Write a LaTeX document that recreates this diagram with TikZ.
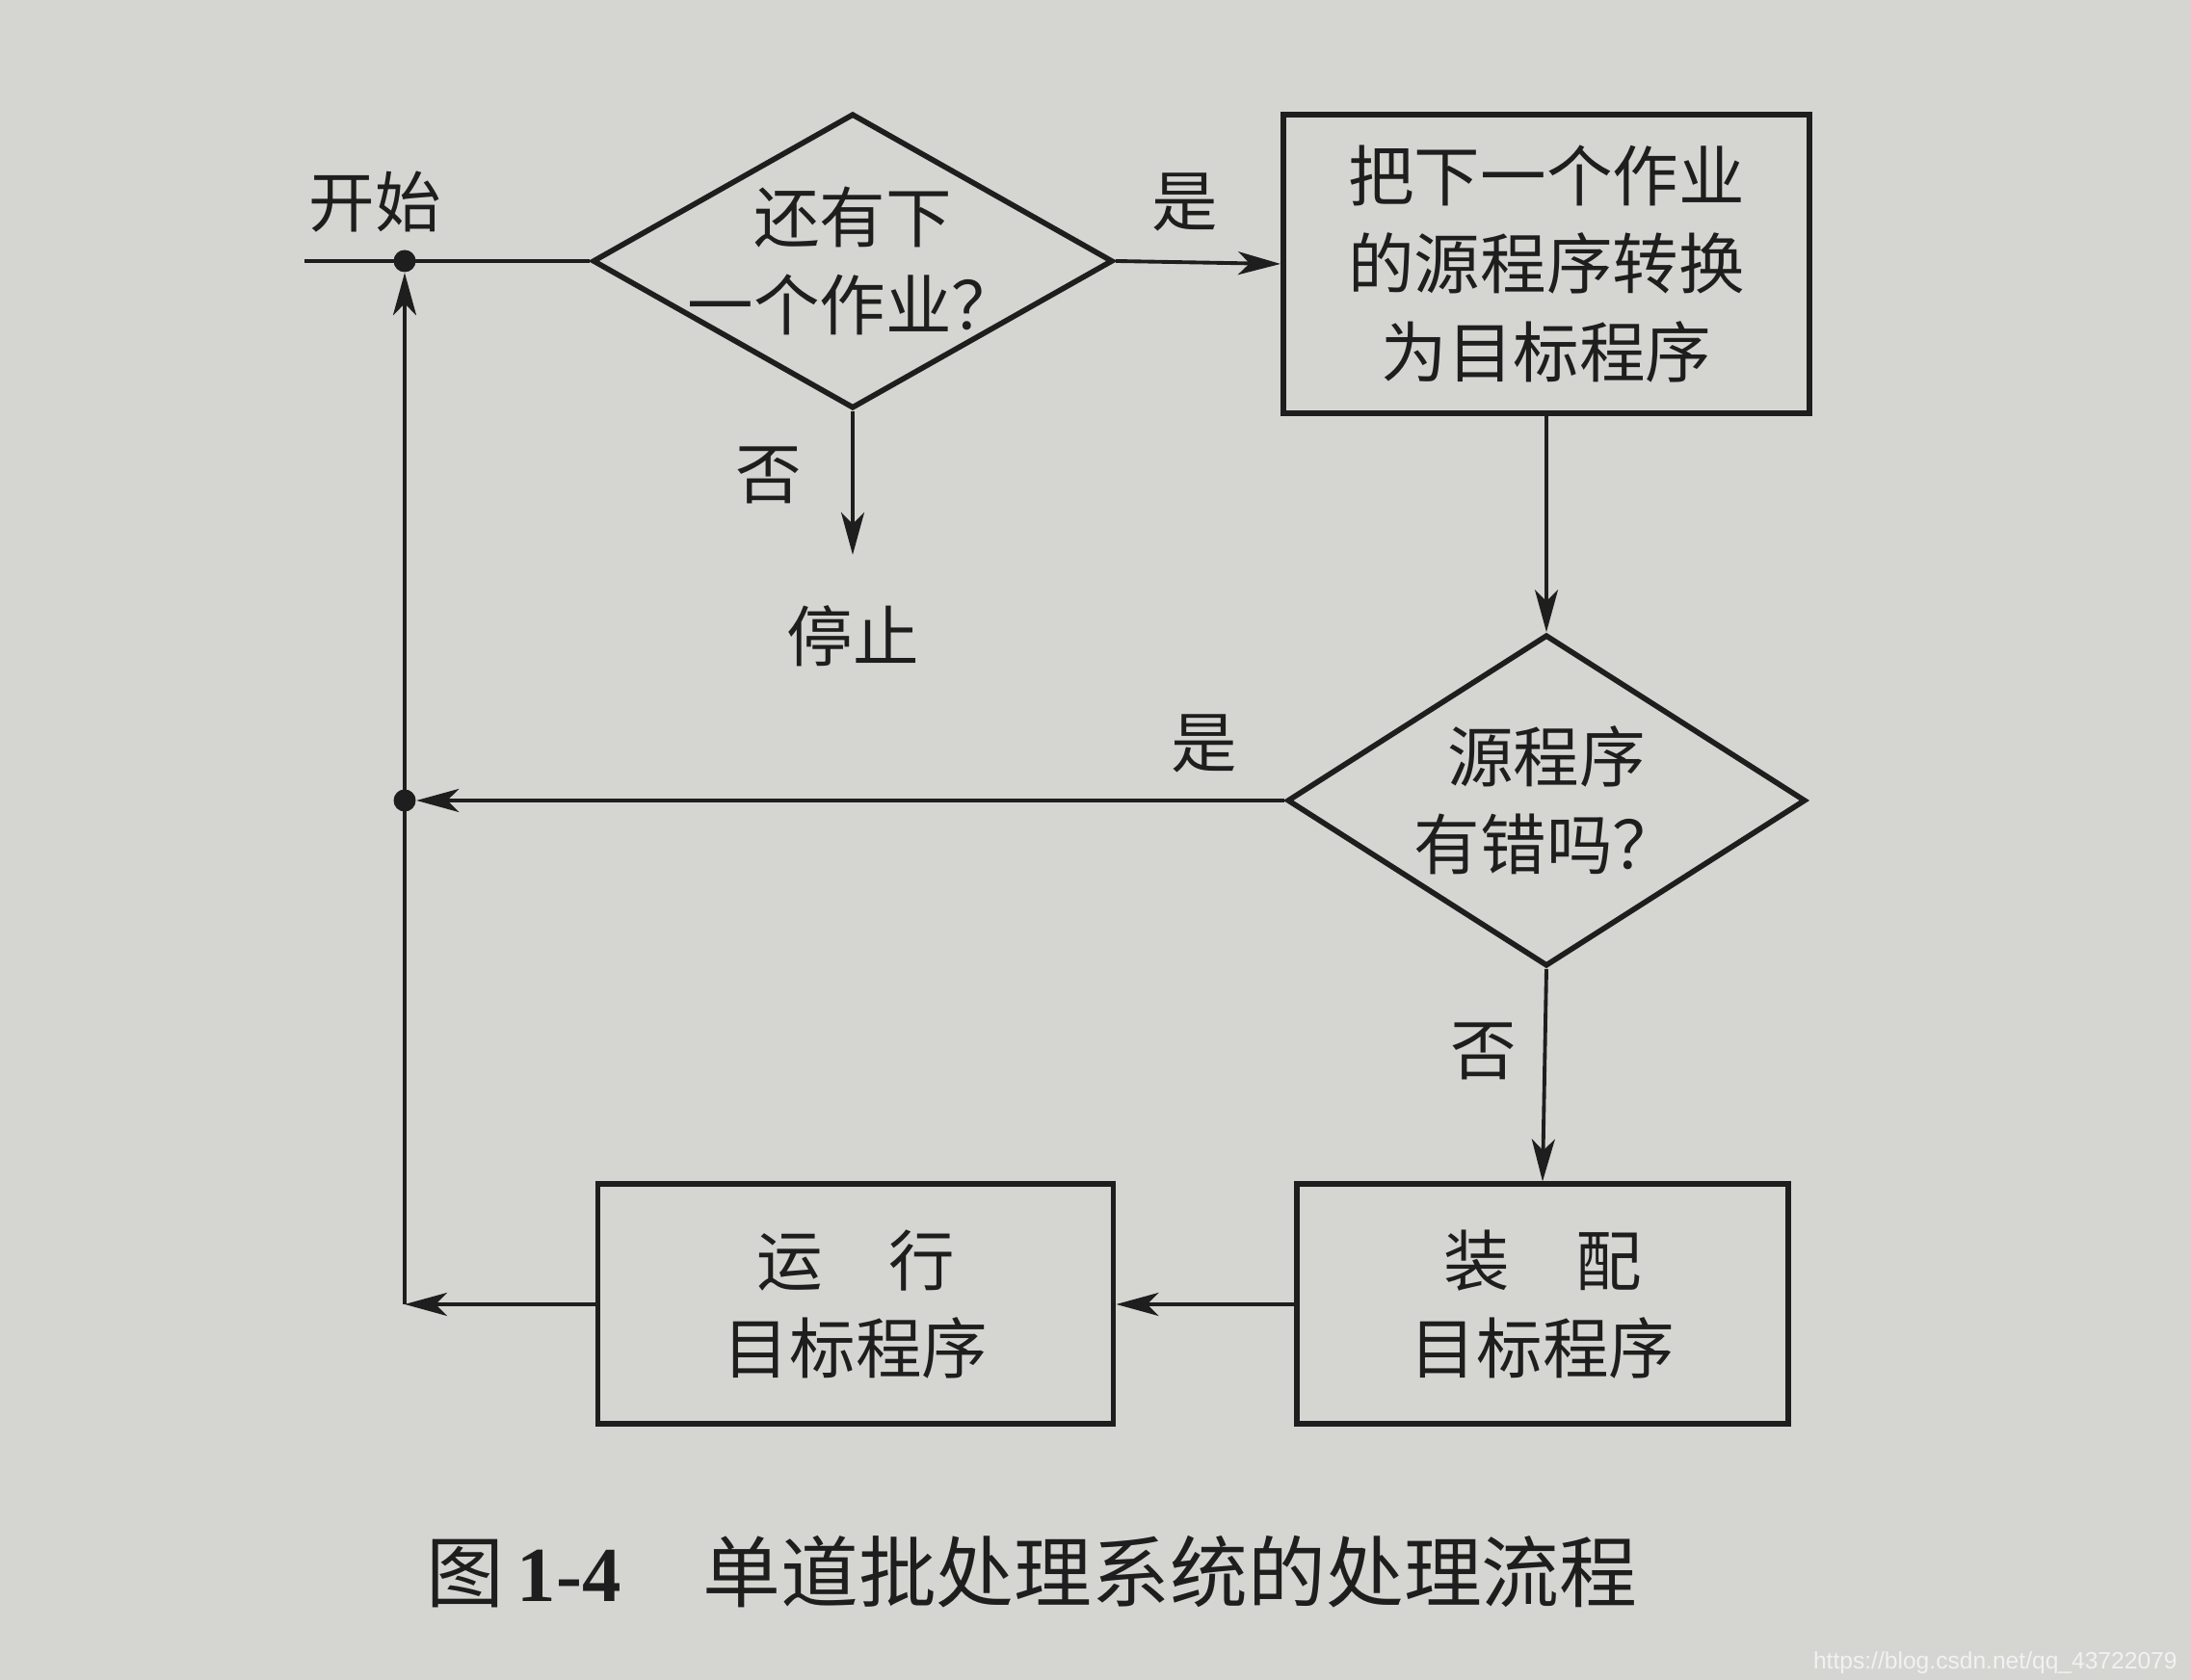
\documentclass[tikz,border=0pt]{standalone}
\usepackage{fontspec}
\setmainfont{Noto Sans CJK SC}
\newfontfamily\capnum{Liberation Serif}
\newfontfamily\markfont{Liberation Sans}
\usepackage{tikz}
\usetikzlibrary{positioning, arrows.meta, shapes.geometric, calc}
\usepackage{xcolor}
\definecolor{paperBg}{HTML}{D5D5D1}
\definecolor{inkBlack}{HTML}{1E1E1E}
\definecolor{markWhite}{HTML}{F2F2F2}

\begin{document}
\begin{tikzpicture}[
      font=\fontsize{19.5}{26}\selectfont,
      decision/.style={diamond, draw=inkBlack, line width=1.6pt, aspect=1.76, minimum width=5.4cm, minimum height=3.06cm, inner sep=-0.3cm, align=center, text=inkBlack},
      box/.style={rectangle, draw=inkBlack, line width=1.7pt, align=center, text=inkBlack},
      flow/.style={-{Stealth[length=4.4mm, width=2.4mm, inset=1.2mm]}, draw=inkBlack, line width=1.1pt},
      plain/.style={draw=inkBlack, line width=1.1pt},
      lbl/.style={text=inkBlack},
      junction/.style={circle, fill=inkBlack, inner sep=0pt, minimum size=2.3mm}
    ]
      \fill[paperBg] (0,0) rectangle (22.74,17.44);
      \useasboundingbox (0,0) rectangle (22.74,17.44);

      \node[decision] (q1) at (8.85,14.73) {还有下\\一个作业？};
      \node[box, minimum width=5.46cm, minimum height=3.1cm] (conv) at (16.05,14.70) {把下一个作业\\的源程序转换\\为目标程序};
      \node[decision, aspect=1.56, minimum width=5.38cm, minimum height=3.44cm] (q2) at (16.05,9.13) {源程序\\有错吗？};
      \node[box, minimum width=5.1cm, minimum height=2.49cm] (load) at (16.01,3.90) {装　配\\目标程序};
      \node[box, minimum width=5.35cm, minimum height=2.49cm] (run) at (8.88,3.90) {运　行\\目标程序};
      \node[lbl] (stop) at (8.85,10.84) {停止};

      \coordinate (start) at (3.16,14.73);
      \node[junction] (j1) at (4.20,14.73) {};
      \node[junction] (j2) at (4.20,9.13) {};
      \coordinate (corner) at (4.20,3.90);

      \draw[plain] (start) -- (q1.west);
      \draw[flow] (q1.east) -- (conv.west);
      \draw[flow, shorten >=0.4cm] (q1.south) -- (stop.north);
      \draw[flow] (conv.south) -- (q2.north);
      \draw[flow] (q2.west) -- (j2);
      \draw[flow] (q2.south) -- (load.north);
      \draw[flow] (load.west) -- (run.east);
      \draw[flow] (run.west) -- (corner);
      \draw[flow] (corner) -- (j1);

      \node[lbl] (tstart) at (3.89,15.34) {开始};
      \node[lbl] (yes1) at (12.30,15.34) {是};
      \node[lbl] (no1) at (7.98,12.51) {否};
      \node[lbl] (yes2) at (12.50,9.72) {是};
      \node[lbl] (no2) at (15.40,6.53) {否};

      \node[lbl, anchor=west, font=\fontsize{23}{28}\selectfont] (cap) at (4.30,1.12) {图\,{\capnum\bfseries 1-4}\hspace{0.85cm}单道批处理系统的处理流程};
      \node[anchor=east, text=markWhite, font=\markfont\fontsize{7}{8}\selectfont] (mark) at (22.72,0.18) {https://blog.csdn.net/qq\_43722079};
    \end{tikzpicture}
\end{document}
